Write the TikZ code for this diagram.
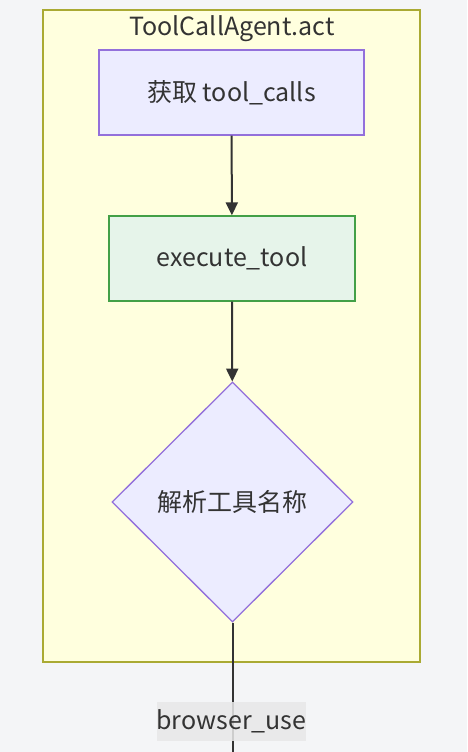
\documentclass[tikz,border=0pt]{standalone}
\usepackage{fontspec}
\setmainfont{Noto Sans CJK SC}
\usetikzlibrary{shapes.geometric, arrows.meta, positioning}
\definecolor{pagebg}{RGB}{244,245,247}
\definecolor{clusterfill}{RGB}{255,255,222}
\definecolor{clusterline}{RGB}{170,170,51}
\definecolor{nodefill}{RGB}{236,236,255}
\definecolor{nodeline}{RGB}{147,112,219}
\definecolor{execfill}{RGB}{230,244,234}
\definecolor{execline}{RGB}{67,160,71}
\definecolor{edgecol}{RGB}{51,51,51}
\definecolor{labelfill}{RGB}{232,232,232}

\begin{document}
\begin{tikzpicture}[
  x=1pt, y=-1pt,
  cluster/.style={rectangle, draw=clusterline, fill=clusterfill, line width=1.3pt},
  procbox/.style={rectangle, draw=nodeline, fill=nodefill, line width=1.3pt,
    minimum width=265pt, minimum height=85pt, inner sep=0pt, text=edgecol,
    font=\fontsize{25}{30}\selectfont},
  execbox/.style={procbox, draw=execline, fill=execfill, minimum width=246pt},
  decision/.style={diamond, draw=nodeline, fill=nodefill, line width=1.3pt,
    minimum width=241pt, minimum height=240pt, inner sep=0pt, text=edgecol,
    font=\fontsize{25}{30}\selectfont},
  edgelabel/.style={rectangle, fill=labelfill, fill opacity=0.85, text opacity=1,
    minimum width=143pt, minimum height=39pt, inner sep=0pt, text=edgecol,
    font=\fontsize{25}{30}\selectfont},
  arrow/.style={-{Stealth[length=13pt, width=12pt, inset=0pt]}, line width=2pt, draw=edgecol}
]
\useasboundingbox (0,0) rectangle (467,752);
\fill[pagebg] (0,0) rectangle (467,752);

% 子图
\draw[cluster] (43,10) rectangle (420,662);
\node (title) at (232,29) [text=edgecol, font=\fontsize{25}{30}\selectfont] {ToolCallAgent.act};

% 节点
\node (fetch) at (231.5,92.5) [procbox] {获取 tool\_calls};
\node (exec) at (232,258.5) [execbox] {execute\_tool};
\node (parse) at (232.5,502) [decision] {解析工具名称};
\coordinate (down) at (232.5,752);

% 箭头
\draw [arrow] (fetch) -- (exec);
\draw [arrow] (exec) -- (parse);
\draw [line width=2pt, draw=edgecol] (parse) -- (down);

% 标签
\node (browser) at (231.5,721.5) [edgelabel] {browser\_use};

\end{tikzpicture}
\end{document}
